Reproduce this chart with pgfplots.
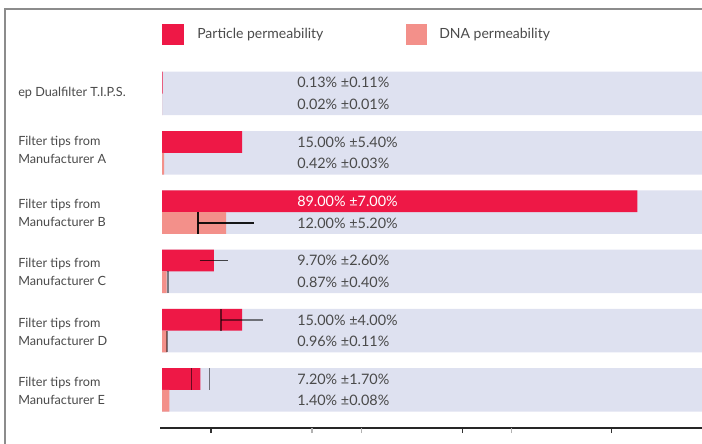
\documentclass[border=0pt]{standalone}
\usepackage{pgfplots}
\usepackage{pgfplotstable}
\pgfplotsset{compat=1.18}
\usepackage{fontspec}
\setmainfont{Lato}
\definecolor{partc}{HTML}{EE1846}
\definecolor{dnac}{HTML}{F3908A}
\definecolor{band}{HTML}{DEE1F0}
\definecolor{txt}{HTML}{4A4A4A}

% rows: y = 5 (top) ... 0 (bottom); particle bar above, DNA bar below
\pgfplotstableread{
y    part  perr  dna   derr
5    0.13  0.11  0.02  0.01
4    15.0  5.40  0.42  0.03
3    89.0  7.00  12.0  5.20
2    9.70  2.60  0.87  0.40
1    15.0  4.00  0.96  0.11
0    7.20  1.70  1.40  0.08
}\permtable

\begin{document}
\begin{tikzpicture}[x=0.75pt,y=0.75pt]
\clip (0,0) rectangle (702,443);
% outer frame
\draw[black!45, line width=1.1pt] (5,-5) -- (5,434) -- (720,434);

% legend
\fill[partc] (162,398) rectangle (184,419);
\node[anchor=west, inner sep=0, text=txt, font=\fontsize{10.5}{12}\selectfont] at (197,408.5) {Particle permeability};
\fill[dnac] (405.7,398) rectangle (426.7,419);
\node[anchor=west, inner sep=0, text=txt, font=\fontsize{10.5}{12}\selectfont] at (439,408.5) {DNA permeability};

\begin{axis}[
  at={(120pt,11.25pt)}, anchor=south west,
  scale only axis, width=406.5pt, height=276pt,
  xmin=-0.374, xmax=101.09,
  ymin=-0.641, ymax=5.565,
  axis x line*=bottom, axis y line=none,
  x axis line style={draw=black!85, line width=1.1pt},
  xtick={9.17,56.2,84.2}, xticklabels={},
  extra x ticks={28.1,37.3,65.4}, extra x tick labels={},
  extra x tick style={xtick style={draw=black!30, line width=1pt}},
  tick align=outside, major tick length=3.75pt,
  xtick style={draw=black!80, line width=1pt},
  ytick=\empty,
]
% background bands
\addplot[xbar, bar width=0.7336, bar shift=0pt, fill=band, draw=none]
  table[x expr=101.09, y=y] {\permtable};
% particle permeability
\addplot[xbar, bar width=0.367, bar shift=0pt, fill=partc, draw=none]
  table[x=part, y expr=\thisrow{y}+0.1834] {\permtable};
% DNA permeability
\addplot[xbar, bar width=0.367, bar shift=0pt, fill=dnac, draw=none]
  table[x=dna, y expr=\thisrow{y}-0.1834] {\permtable};

% error bars as they appear in the reference
\addplot[black, opacity=0.9, line width=1.4pt] coordinates {(6.8,2.8166) (17.2,2.8166)};
\addplot[black, opacity=0.9, line width=1.4pt] coordinates {(6.8,2.634) (6.8,3.0)};
\addplot[black, opacity=0.7, line width=1.3pt] coordinates {(7.1,2.1834) (12.3,2.1834)};
\addplot[black, opacity=0.45, line width=1.3pt] coordinates {(1.1,1.634) (1.1,2.0)};
\addplot[black, opacity=0.5, line width=1.3pt] coordinates {(11.0,1.1834) (19.0,1.1834)};
\addplot[black, opacity=0.55, line width=1.3pt] coordinates {(11.0,1.0) (11.0,1.366)};
\addplot[black, opacity=0.45, line width=1.3pt] coordinates {(0.9,0.634) (0.9,1.0)};
\addplot[black, opacity=0.55, line width=1.3pt] coordinates {(5.5,0.0) (5.5,0.366)};
\addplot[black, opacity=0.5, line width=1.3pt] coordinates {(8.9,0.0) (8.9,0.366)};
\end{axis}

% value labels
\begin{scope}[every node/.style={anchor=west, inner sep=0, text=txt, font=\fontsize{10.8}{12}\selectfont}]
\node at (297,443-82.75) {0.13\% ±0.11\%};
\node at (297,443-104.25) {0.02\% ±0.01\%};
\node at (297,443-142.05) {15.00\% ±5.40\%};
\node at (297,443-163.55) {0.42\% ±0.03\%};
\node[text=white] at (297,443-201.35) {89.00\% ±7.00\%};
\node at (297,443-222.85) {12.00\% ±5.20\%};
\node at (297,443-260.65) {9.70\% ±2.60\%};
\node at (297,443-282.15) {0.87\% ±0.40\%};
\node at (297,443-319.95) {15.00\% ±4.00\%};
\node at (297,443-341.45) {0.96\% ±0.11\%};
\node at (297,443-379.25) {7.20\% ±1.70\%};
\node at (297,443-400.75) {1.40\% ±0.08\%};
\end{scope}

% category labels
\begin{scope}[every node/.style={anchor=west, inner sep=0, align=left, text=txt, font=\fontsize{9.5}{13.5}\selectfont}]
\node at (18,443-92.5) {ep Dualfilter T.I.P.S.};
\node at (18,443-150) {Filter tips from\\Manufacturer A};
\node at (18,443-213) {Filter tips from\\Manufacturer B};
\node at (18,443-272) {Filter tips from\\Manufacturer C};
\node at (18,443-332) {Filter tips from\\Manufacturer D};
\node at (18,443-391) {Filter tips from\\Manufacturer E};
\end{scope}
\end{tikzpicture}
\end{document}
